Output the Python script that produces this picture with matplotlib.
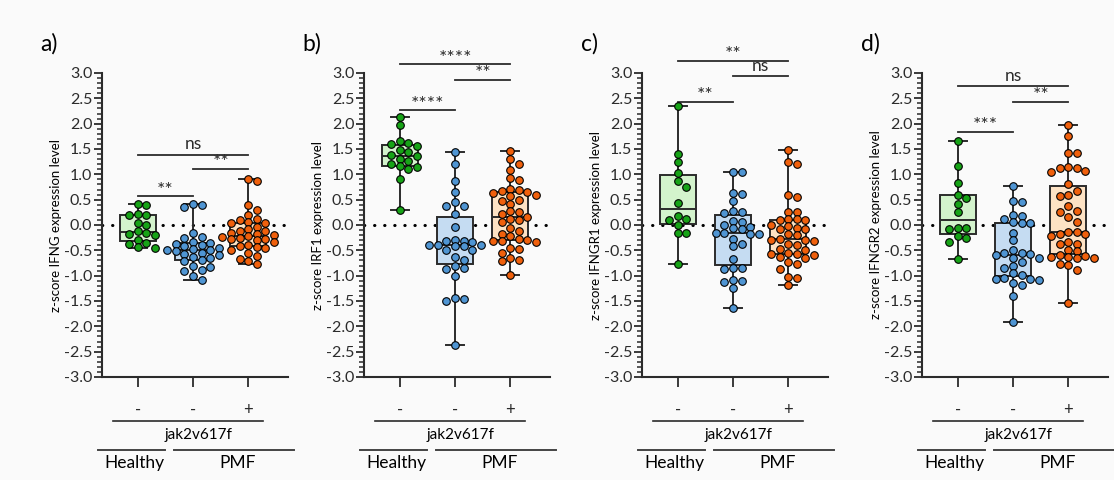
import numpy as np
import matplotlib
matplotlib.use('Agg')
import matplotlib.pyplot as plt
from matplotlib.ticker import MultipleLocator, FormatStrFormatter

plt.rcParams['font.family'] = ['Lato', 'DejaVu Sans']
plt.rcParams['axes.unicode_minus'] = False

# jak2v617f status under each box
groups = ['-', '-', '+']
genes = ['IFNG', 'IRF1', 'IFNGR1', 'IFNGR2']
tags = ['a)', 'b)', 'c)', 'd)']

# z-scores: healthy, PMF jak2-, PMF jak2+
ifng_healthy = [0.41, 0.40, 0.22, 0.20, 0.19, 0.04, 0.0, -0.12, -0.15, -0.17, -0.20, -0.30, -0.35, -0.38, -0.44, -0.46]
ifng_pmf_neg = [0.41, 0.40, 0.36, -0.15, -0.24, -0.25, -0.33, -0.35, -0.37, -0.40, -0.42, -0.45, -0.48, -0.50,
                -0.50, -0.52, -0.55, -0.58, -0.60, -0.63, -0.66, -0.70, -0.72, -0.80, -0.82, -0.88, -0.90, -1.00, -1.08]
ifng_pmf_pos = [0.90, 0.86, 0.40, 0.30, 0.20, 0.12, 0.10, 0.06, 0.04, 0.03, -0.04, -0.08, -0.12, -0.12, -0.15, -0.18,
                -0.20, -0.22, -0.24, -0.25, -0.27, -0.28, -0.30, -0.33, -0.40, -0.42, -0.44, -0.46, -0.50, -0.55,
                -0.62, -0.68, -0.72, -0.77]

irf1_healthy = [2.14, 1.98, 1.65, 1.62, 1.60, 1.55, 1.48, 1.45, 1.38, 1.36, 1.30, 1.27, 1.20, 1.16, 1.15, 1.10, 0.90, 0.30]
irf1_pmf_neg = [1.44, 1.20, 0.87, 0.65, 0.45, 0.37, 0.37, 0.22, -0.03, -0.30, -0.31, -0.32, -0.34, -0.39, -0.40,
                -0.40, -0.41, -0.42, -0.49, -0.50, -0.64, -0.70, -0.80, -0.84, -0.87, -1.01, -1.45, -1.47, -1.50, -2.36]
irf1_pmf_pos = [1.47, 1.30, 1.20, 1.08, 0.92, 0.88, 0.72, 0.70, 0.68, 0.66, 0.64, 0.60, 0.58, 0.50, 0.48, 0.42,
                0.27, 0.25, 0.22, 0.16, 0.12, 0.10, 0.05, -0.05, -0.12, -0.18, -0.22, -0.27, -0.29, -0.31, -0.32,
                -0.34, -0.45, -0.48, -0.55, -0.65, -0.70, -0.72, -0.98]

ifngr1_healthy = [2.34, 1.40, 1.25, 1.03, 0.86, 0.75, 0.44, 0.18, 0.12, 0.10, 0.0, -0.15, -0.16, -0.76]
ifngr1_pmf_neg = [1.05, 1.04, 0.63, 0.61, 0.48, 0.27, 0.26, 0.24, 0.08, 0.06, 0.0, -0.04, -0.06, -0.08, -0.15,
                  -0.16, -0.17, -0.18, -0.28, -0.38, -0.42, -0.67, -0.84, -0.85, -0.86, -1.08, -1.11, -1.13, -1.24, -1.64]
ifngr1_pmf_pos = [1.48, 1.25, 1.20, 0.60, 0.56, 0.26, 0.25, 0.12, 0.11, 0.10, 0.10, 0.0, -0.02, -0.06, -0.07, -0.08,
                  -0.18, -0.20, -0.28, -0.29, -0.30, -0.31, -0.37, -0.39, -0.48, -0.50, -0.55, -0.57, -0.58, -0.60,
                  -0.64, -0.66, -0.74, -0.76, -0.86, -1.02, -1.04, -1.18]

ifngr2_healthy = [1.66, 1.16, 0.82, 0.60, 0.54, 0.41, 0.25, -0.05, -0.06, -0.08, -0.22, -0.26, -0.33, -0.67]
ifngr2_pmf_neg = [0.77, 0.47, 0.45, 0.20, 0.18, 0.12, 0.05, 0.04, 0.03, -0.16, -0.30, -0.50, -0.55, -0.56, -0.58,
                  -0.60, -0.65, -0.66, -0.74, -0.80, -0.84, -0.95, -0.98, -1.04, -1.06, -1.07, -1.08, -1.15, -1.18,
                  -1.40, -1.92]
ifngr2_pmf_pos = [1.97, 1.75, 1.43, 1.42, 1.15, 1.13, 1.12, 1.06, 1.05, 0.80, 0.68, 0.60, 0.58, 0.38, 0.27, 0.25,
                  0.15, 0.05, -0.13, -0.14, -0.17, -0.18, -0.22, -0.33, -0.37, -0.38, -0.50, -0.52, -0.60, -0.62,
                  -0.63, -0.64, -0.65, -0.66, -0.76, -0.78, -0.88, -1.53]

panels = [
    [ifng_healthy, ifng_pmf_neg, ifng_pmf_pos],
    [irf1_healthy, irf1_pmf_neg, irf1_pmf_pos],
    [ifngr1_healthy, ifngr1_pmf_neg, ifngr1_pmf_pos],
    [ifngr2_healthy, ifngr2_pmf_neg, ifngr2_pmf_pos],
]

# significance bars: (from group, to group, label)
sig_pairs = [(1, 2), (2, 3), (1, 3)]
sig_labels = [
    ['**', '**', 'ns'],
    ['****', '**', '****'],
    ['**', 'ns', '**'],
    ['***', '**', 'ns'],
]
sig_heights = [
    [0.57, 1.11, 1.39],
    [2.27, 2.87, 3.17],
    [2.43, 2.94, 3.24],
    [1.84, 2.43, 2.74],
]

fill_cols = ['#d3f3cc', '#c5dcf2', '#fde2c4']
dot_cols = ['#17a317', '#4f95d3', '#f0600c']
edge = '#2b2b2b'
bg = '#fafafa'

W, H = 1114, 480
fig = plt.figure(figsize=(W / 100, H / 100), dpi=100, facecolor=bg)

lefts = [102, 364, 642, 922]
ax_w, ax_h, ax_top = 186, 304, 73


def swarm_x(ax, xc, vals, step):
    # simple beeswarm in pixel space, dots may touch a little
    pts = ax.transData.transform(np.column_stack([np.full(len(vals), xc), vals]))
    ys = pts[:, 1]
    placed = []
    xs = np.zeros(len(vals))
    cands = [0]
    for k in range(1, 4):
        cands += [k, -k]
    for i in np.argsort(ys)[::-1]:
        best, best_d = 0, -1
        for k in cands:
            off = k * step
            d = min([np.hypot(off - px, ys[i] - py) for px, py in placed] or [99])
            if d >= step * 0.8:
                best = off
                break
            if d > best_d:
                best, best_d = off, d
        placed.append((best, ys[i]))
        xs[i] = pts[i, 0] + best
    return ax.transData.inverted().transform(np.column_stack([xs, ys]))[:, 0]


for p in range(4):
    ax = fig.add_axes([lefts[p] / W, (H - ax_top - ax_h) / H, ax_w / W, ax_h / H])
    ax.set_facecolor(bg)
    ax.set_xlim(0.35, 3.72)
    ax.set_ylim(-3, 3)
    data = panels[p]
    pos = [1, 2, 3]

    ax.axhline(0, color='black', lw=2.2, ls=(0, (0.1, 3.2)), dash_capstyle='round', zorder=1)

    bp = ax.boxplot(data, positions=pos, widths=0.66, whis=(0, 100), showfliers=False,
                    patch_artist=True, capwidths=0.32,
                    boxprops=dict(edgecolor=edge, linewidth=1.4),
                    medianprops=dict(color=edge, linewidth=1.4),
                    whiskerprops=dict(color=edge, linewidth=1.4),
                    capprops=dict(color=edge, linewidth=1.4), zorder=2)
    for patch, fc in zip(bp['boxes'], fill_cols):
        patch.set_facecolor(fc)

    for i, vals in enumerate(data):
        xs = swarm_x(ax, pos[i], vals, 8.6)
        ax.scatter(xs, vals, s=30, color=dot_cols[i], edgecolor='black', linewidth=0.8, zorder=4)

    for (g1, g2), lab, h in zip(sig_pairs, sig_labels[p], sig_heights[p]):
        ax.plot([g1, g2], [h, h], color=edge, lw=1.3, clip_on=False)
        if lab == 'ns':
            ax.text((g1 + g2) / 2, h + 0.05, lab, ha='center', va='bottom', fontsize=12.5, color=edge)
        else:
            ax.text((g1 + g2) / 2, h - 0.05, lab, ha='center', va='bottom', fontsize=14, color=edge)

    for s in ['top', 'right']:
        ax.spines[s].set_visible(False)
    for s in ['left', 'bottom']:
        ax.spines[s].set_linewidth(1.5)
        ax.spines[s].set_color(edge)

    ax.yaxis.set_major_locator(MultipleLocator(0.5))
    ax.yaxis.set_minor_locator(MultipleLocator(0.1))
    ax.yaxis.set_major_formatter(FormatStrFormatter('%.1f'))
    ax.tick_params(axis='y', which='major', length=6, width=1.3, labelsize=11.5, pad=1, colors=edge)
    ax.tick_params(axis='y', which='minor', length=3.5, width=1.1, colors=edge)
    ax.set_xticks(pos)
    ax.set_xticklabels(groups, fontsize=12)
    ax.tick_params(axis='x', length=7, width=1.3, pad=11, colors=edge)

    ax.set_ylabel('z-score ' + genes[p] + ' expression level', fontsize=9.5, labelpad=1)
    ax.text(-0.33, 1.06, tags[p], transform=ax.transAxes, fontsize=16.5, ha='left', va='bottom')

    tr = ax.get_xaxis_transform()
    ax.plot([0.55, 3.26], [-0.145, -0.145], color=edge, lw=1.2, transform=tr, clip_on=False)
    ax.text(2.1, -0.168, 'jak2v617f', transform=tr, ha='center', va='top', fontsize=11)
    ax.plot([0.28, 1.5], [-0.241, -0.241], color='#444444', lw=1.4, transform=tr, clip_on=False)
    ax.plot([1.66, 3.82], [-0.241, -0.241], color='#444444', lw=1.4, transform=tr, clip_on=False)
    ax.text(0.93, -0.257, 'Healthy', transform=tr, ha='center', va='top', fontsize=12.5)
    ax.text(2.8, -0.257, 'PMF', transform=tr, ha='center', va='top', fontsize=12.5)

fig.savefig('out.png', dpi=100, facecolor=bg)
